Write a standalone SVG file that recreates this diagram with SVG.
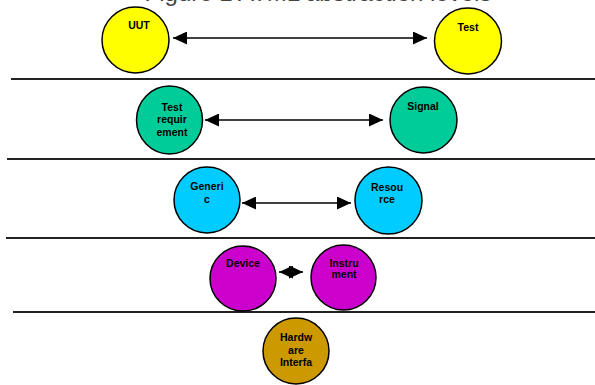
<svg xmlns="http://www.w3.org/2000/svg" width="595" height="385" viewBox="0 0 595 385">
<defs>
<style>
.n{stroke:#000;stroke-width:1.5}
.t{font-family:"Liberation Sans",Arial,sans-serif;font-weight:bold;font-size:10.5px;fill:#000;text-anchor:middle}
.sep{stroke:#222;stroke-width:2}
.c{stroke:#000;stroke-width:1.6;fill:none;marker-start:url(#ah);marker-end:url(#ah)}
</style>
<marker id="ah" viewBox="0 0 14 13" refX="14" refY="6.5" markerWidth="14" markerHeight="13" markerUnits="userSpaceOnUse" orient="auto-start-reverse">
<path d="M0,0 L14,6.5 L0,13 Z" fill="#000"/>
</marker>
</defs>
<rect width="595" height="385" fill="#fff"/>
<text x="318" y="0.5" font-family="Liberation Sans,Arial,sans-serif" font-size="24" fill="#444" text-anchor="middle">Figure 1 ATML abstraction levels</text>
<g id="separators">
<line class="sep" x1="11" y1="79" x2="595" y2="79"/>
<line class="sep" x1="7" y1="159" x2="595" y2="159"/>
<line class="sep" x1="6" y1="238" x2="595" y2="238"/>
<line class="sep" x1="13" y1="312" x2="595" y2="312"/>
</g>
<g id="connectors">
<line class="c" x1="173" y1="38" x2="427" y2="38"/>
<line class="c" x1="205" y1="120" x2="383" y2="120"/>
<line class="c" x1="242" y1="203" x2="351" y2="203"/>
<line class="c" x1="279" y1="272" x2="303" y2="272"/>
</g>
<g id="uut"><ellipse class="n" cx="135.5" cy="40" rx="33.5" ry="33" fill="#FFFF00"/><text class="t" x="139" y="29">UUT</text></g>
<g id="test"><ellipse class="n" cx="468" cy="41" rx="33.5" ry="33" fill="#FFFF00"/><text class="t" x="468" y="31">Test</text></g>
<g id="test-requirement"><ellipse class="n" cx="169.5" cy="120" rx="33" ry="34" fill="#00CC99"/><text class="t" x="172" y="110.5">Test</text><text class="t" x="172" y="123">requir</text><text class="t" x="172" y="135.5">ement</text></g>
<g id="signal"><ellipse class="n" cx="423.5" cy="120" rx="33.5" ry="33" fill="#00CC99"/><text class="t" x="423" y="109.5">Signal</text></g>
<g id="generic"><ellipse class="n" cx="207" cy="200" rx="33" ry="33" fill="#00CCFF"/><text class="t" x="207" y="190">Generi</text><text class="t" x="207" y="202.5">c</text></g>
<g id="resource"><ellipse class="n" cx="388.5" cy="200.5" rx="33.5" ry="33.5" fill="#00CCFF"/><text class="t" x="387" y="190.5">Resou</text><text class="t" x="387" y="203">rce</text></g>
<g id="device"><ellipse class="n" cx="243" cy="278.5" rx="33" ry="32.5" fill="#CC00CC"/><text class="t" x="243" y="267">Device</text></g>
<g id="instrument"><ellipse class="n" cx="343.5" cy="277.5" rx="32.5" ry="32.5" fill="#CC00CC"/><text class="t" x="344" y="266.5">Instru</text><text class="t" x="344" y="278">ment</text></g>
<g id="hardware-interface"><ellipse class="n" cx="296" cy="351" rx="33" ry="33" fill="#CC9900"/><text class="t" x="296" y="341">Hardw</text><text class="t" x="296" y="353.5">are</text><text class="t" x="296" y="366">Interfa</text></g>
</svg>
